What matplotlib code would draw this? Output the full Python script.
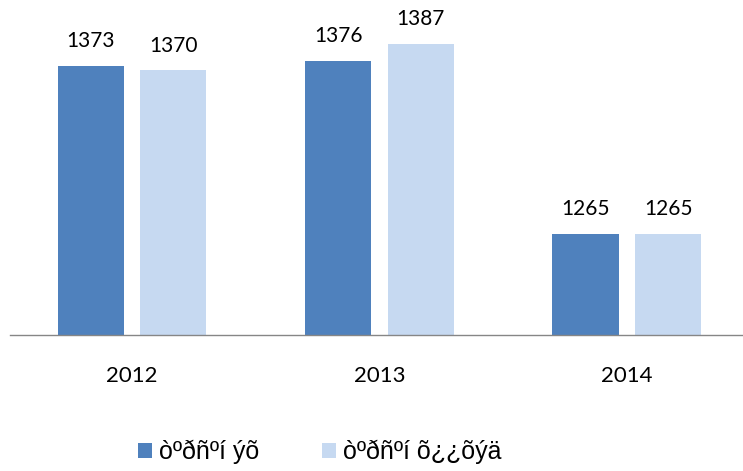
import matplotlib
matplotlib.use("Agg")
import matplotlib.pyplot as plt
from matplotlib.patches import Patch
import numpy as np

categories = ["2012", "2013", "2014"]
series_names = ["òºðñºí ýõ", "òºðñºí õ¿¿õýä"]
series1 = [1373, 1376, 1265]
series2 = [1370, 1387, 1265]
colors = ["#4F81BD", "#C6D9F1"]

W, H = 743, 471
fig = plt.figure(figsize=(W / 100, H / 100), dpi=100)
ax = fig.add_axes([10 / W, 1 - 335 / H, 733 / W, (335 - 23.6) / H])

x = np.arange(len(categories))
bw = 0.267
off = 0.1675
for vals, sign, col in [(series1, -1, colors[0]), (series2, 1, colors[1])]:
    ax.bar(x + sign * off, [v - 1200 for v in vals], bw, bottom=1200, color=col)
    for xi, v in zip(x, vals):
        ax.annotate(str(v), (xi + sign * off, v), xytext=(0, 13.5), textcoords="offset points",
                    ha="center", va="baseline", fontsize=15, family="Lato", color="#000000")

ax.set_xlim(-0.493, 2.469)
ax.set_ylim(1200, 1400)
ax.set_xticks(x)
ax.set_xticklabels(categories, fontsize=16, family="Lato")
ax.tick_params(axis="x", length=0, pad=22)
ax.set_yticks([])
for s in ["top", "left", "right"]:
    ax.spines[s].set_visible(False)
ax.spines["bottom"].set_color("#868686")
ax.spines["bottom"].set_linewidth(1.0)

handles = [Patch(facecolor=colors[0]), Patch(facecolor=colors[1])]
fig.legend(handles, series_names, loc="center", bbox_to_anchor=(320 / W, 1 - 452 / H),
           ncol=2, frameon=False, prop={"family": "Liberation Sans", "size": 18},
           handlelength=0.55, handleheight=0.55, handletextpad=0.3, columnspacing=2.5)

fig.savefig("out.png", dpi=100)
